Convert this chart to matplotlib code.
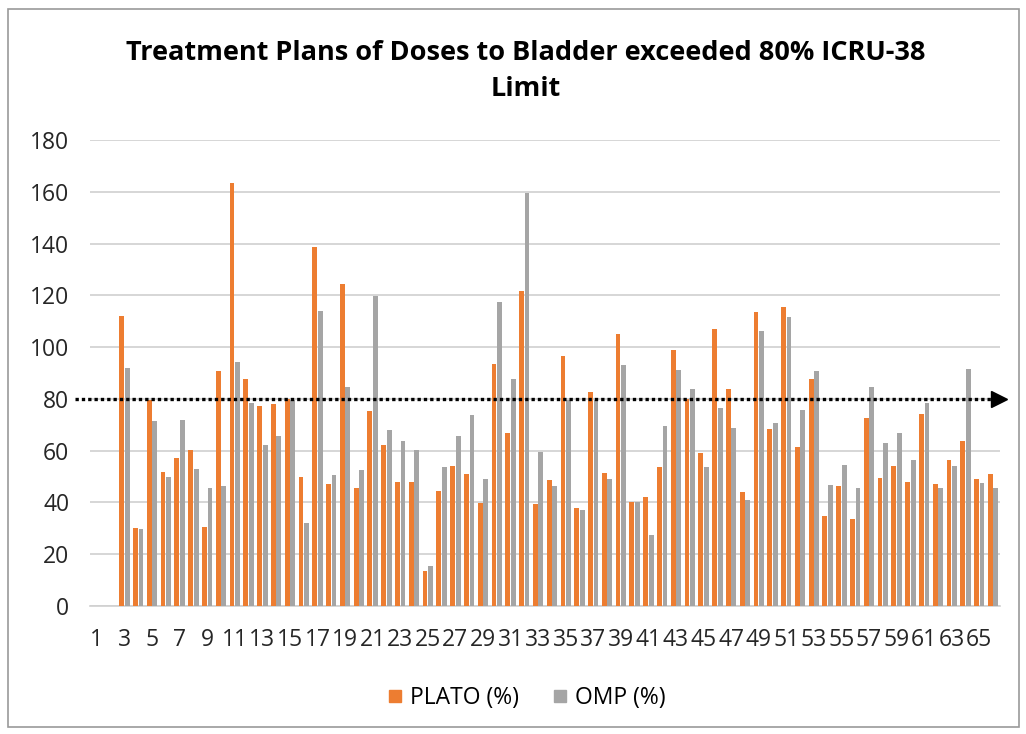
import numpy as np
import matplotlib
matplotlib.use("Agg")
import matplotlib.pyplot as plt
from matplotlib.transforms import blended_transform_factory
from matplotlib.patches import Rectangle
from matplotlib.lines import Line2D

# ── data ──────────────────────────────────────────────────────────────────
# categories 1..66, the first two are empty
categories = list(range(1, 67))
plato = [np.nan, np.nan,
         112, 30.3, 79.6, 51.9, 57.0, 60.4, 30.7, 90.6, 163.4, 87.6,
         77.2, 78.1, 80.0, 50.0, 138.6, 47.2, 124.2, 45.7, 75.3, 62.3,
         48.0, 48.0, 13.4, 44.6, 54.0, 51.0, 39.8, 93.3, 66.9, 121.8,
         39.3, 48.5, 96.5, 37.7, 82.7, 51.5, 105.0, 40.0, 42.1, 53.6,
         99.0, 79.8, 59.0, 107.0, 83.7, 44.1, 113.5, 68.3, 115.4, 61.3,
         87.6, 34.7, 46.2, 33.7, 72.8, 49.6, 54.0, 48.0, 74.3, 47.1,
         56.5, 63.9, 49.0, 51.0]
omp = [np.nan, np.nan,
       92.0, 29.7, 71.3, 50.0, 71.9, 53.1, 45.7, 46.2, 94.2, 78.3,
       62.0, 65.5, 79.6, 32.2, 113.9, 50.5, 84.6, 52.4, 119.6, 67.8,
       63.9, 60.4, 15.4, 53.5, 65.5, 73.7, 49.0, 117.4, 87.6, 159.6,
       59.6, 46.2, 79.6, 37.2, 79.6, 49.0, 93.1, 40.0, 27.4, 69.4,
       91.2, 83.7, 53.6, 76.3, 68.9, 41.1, 106.3, 70.8, 111.5, 75.8,
       90.6, 46.6, 54.5, 45.7, 84.6, 62.9, 66.9, 56.5, 78.3, 45.7,
       54.0, 91.6, 47.6, 45.7]
limit = 80
yticks = list(range(0, 181, 20))
series_names = ["PLATO (%)", "OMP (%)"]

title = "Treatment Plans of Doses to Bladder exceeded 80% ICRU-38\nLimit"
orange = "#ED7D31"
grey = "#A5A5A5"

plt.rcParams["font.family"] = ["Open Sans", "DejaVu Sans"]

W, H = 1026, 734
fig = plt.figure(figsize=(W / 100, H / 100), dpi=100)
ax = fig.add_axes([90 / W, 1 - 606 / H, 910 / W, 466 / H])

x = np.arange(len(categories))
bw = 0.35
ax.bar(x - 0.2, plato, width=bw, color=orange, zorder=3)
ax.bar(x + 0.2, omp, width=bw, color=grey, zorder=3)

ax.set_xlim(-0.5, len(categories) - 0.5)
ax.set_ylim(0, 180)
ax.set_yticks(yticks)
ax.set_xticks(x[::2])
ax.set_xticklabels([str(c) for c in categories[::2]])
ax.tick_params(axis="both", length=0, labelsize=16.5)
ax.tick_params(axis="y", pad=15)
ax.tick_params(axis="x", pad=16)
for lbl in ax.get_xticklabels() + ax.get_yticklabels():
    lbl.set_color("#262626")

ax.grid(axis="y", color="#d0d0d0", lw=1.2, zorder=0)
for s in ["top", "right", "left"]:
    ax.spines[s].set_visible(False)
ax.spines["bottom"].set_color("#d0d0d0")
ax.spines["bottom"].set_linewidth(1.2)

# dotted 80% limit line with arrow head, running past the axes edges
tr = blended_transform_factory(fig.transFigure, ax.transData)
ax.plot([75 / W, 992 / W], [limit, limit], transform=tr, color="black",
        lw=2.4, linestyle=(0, (1, 0.9)), clip_on=False, zorder=5)
ax.plot([999 / W], [limit], transform=tr, marker=">", markersize=12,
        color="black", clip_on=False, zorder=5)

fig.text(0.512, 1 - 71 / H, title, ha="center", va="center",
         fontsize=19.5, fontweight="bold", linespacing=1.45, color="black")

# legend with square swatches
handles = [Line2D([], [], marker="s", linestyle="none", markersize=9,
                  color=c) for c in (orange, grey)]
fig.legend(handles, series_names, loc="center",
           bbox_to_anchor=(527 / W, 1 - 698 / H), ncol=2, frameon=False,
           fontsize=16.5, handlelength=0.6, columnspacing=1.5,
           handletextpad=0.35)

fig.patches.append(Rectangle((8 / W, 7 / H), 1011 / W, 718 / H,
                             transform=fig.transFigure, fill=False,
                             edgecolor="#9a9a9a", lw=1.2))

fig.savefig("out.png", dpi=100)
